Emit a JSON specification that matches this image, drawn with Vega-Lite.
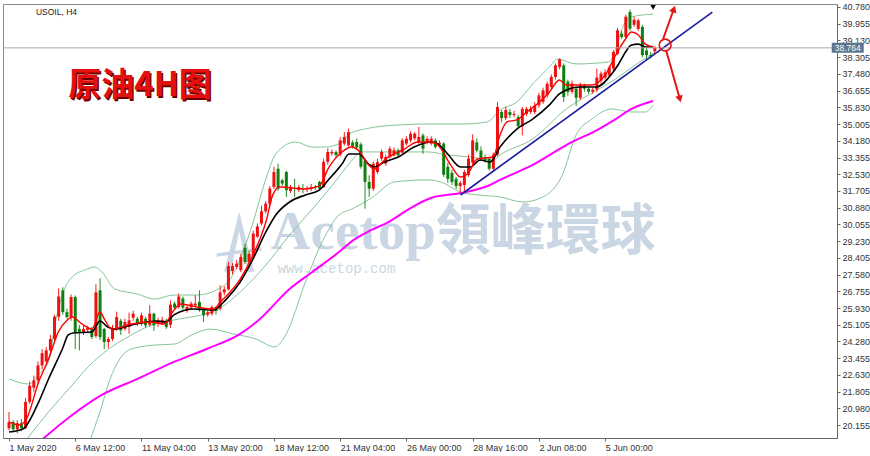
{
"$schema": "https://vega.github.io/schema/vega-lite/v6.json",
"width": 834, "height": 434,
"padding": {"left": 2, "top": 2, "right": 0, "bottom": 0},
"background": "white",
"config": {"view": {"stroke": "#8a8a8a"}, "font": "Liberation Sans"},
"datasets": {
"candles": [
{"i":0,"o":20.0,"h":20.8,"l":19.9,"c":20.3},{"i":1,"o":20.3,"h":20.4,"l":19.8,"c":19.95},{"i":2,"o":19.95,"h":20.4,"l":19.75,"c":20.25},{"i":3,"o":20.25,"h":20.45,"l":19.85,"c":20.0},{"i":4,"o":20.0,"h":21.5,"l":19.95,"c":21.3},{"i":5,"o":21.3,"h":22.3,"l":21.2,"c":22.1},{"i":6,"o":22.0,"h":22.6,"l":21.8,"c":22.36},{"i":7,"o":22.36,"h":23.3,"l":22.2,"c":23.1},{"i":8,"o":23.1,"h":23.9,"l":22.9,"c":23.7},{"i":9,"o":23.3,"h":24.0,"l":23.2,"c":23.84},
{"i":10,"o":23.84,"h":24.6,"l":23.6,"c":24.4},{"i":11,"o":24.4,"h":25.6,"l":24.3,"c":25.5},{"i":12,"o":25.5,"h":26.9,"l":25.3,"c":26.5},{"i":13,"o":26.8,"h":26.95,"l":25.6,"c":25.73},{"i":14,"o":25.73,"h":25.9,"l":25.4,"c":25.48},{"i":15,"o":25.48,"h":26.6,"l":25.3,"c":26.47},{"i":16,"o":26.47,"h":26.55,"l":23.9,"c":24.74},{"i":17,"o":24.9,"h":25.1,"l":23.84,"c":24.7},{"i":18,"o":24.75,"h":25.1,"l":24.6,"c":24.9},{"i":19,"o":24.85,"h":25.05,"l":24.7,"c":24.95},
{"i":20,"o":24.9,"h":25.0,"l":24.4,"c":24.5},{"i":21,"o":24.55,"h":27.1,"l":24.45,"c":26.7},{"i":22,"o":26.8,"h":27.4,"l":24.35,"c":24.5},{"i":23,"o":24.9,"h":24.95,"l":23.9,"c":24.25},{"i":24,"o":24.25,"h":24.5,"l":23.95,"c":24.4},{"i":25,"o":24.4,"h":25.1,"l":24.3,"c":24.95},{"i":26,"o":24.9,"h":25.75,"l":24.8,"c":25.48},{"i":27,"o":25.3,"h":25.4,"l":24.6,"c":24.83},{"i":28,"o":24.9,"h":25.4,"l":24.8,"c":25.24},{"i":29,"o":25.0,"h":25.7,"l":24.66,"c":25.32},
{"i":30,"o":25.45,"h":25.8,"l":25.3,"c":25.65},{"i":31,"o":25.4,"h":25.5,"l":25.05,"c":25.15},{"i":32,"o":25.15,"h":25.7,"l":25.05,"c":25.57},{"i":33,"o":25.4,"h":25.5,"l":24.95,"c":25.07},{"i":34,"o":25.1,"h":26.06,"l":25.0,"c":25.65},{"i":35,"o":25.65,"h":25.7,"l":24.8,"c":25.07},{"i":36,"o":25.15,"h":25.45,"l":25.0,"c":25.32},{"i":37,"o":25.2,"h":25.5,"l":25.1,"c":25.35},{"i":38,"o":25.32,"h":25.4,"l":24.9,"c":24.99},{"i":39,"o":25.1,"h":26.3,"l":24.95,"c":26.1},
{"i":40,"o":26.15,"h":26.25,"l":25.85,"c":25.95},{"i":41,"o":25.98,"h":26.65,"l":25.9,"c":26.5},{"i":42,"o":26.4,"h":26.5,"l":25.85,"c":25.95},{"i":43,"o":25.8,"h":26.05,"l":25.7,"c":25.98},{"i":44,"o":25.95,"h":26.25,"l":25.85,"c":26.15},{"i":45,"o":26.05,"h":26.56,"l":25.95,"c":26.15},{"i":46,"o":26.23,"h":26.8,"l":25.75,"c":25.82},{"i":47,"o":25.82,"h":25.9,"l":25.24,"c":25.57},{"i":48,"o":25.6,"h":25.8,"l":25.5,"c":25.72},{"i":49,"o":25.65,"h":26.05,"l":25.55,"c":25.98},
{"i":50,"o":25.95,"h":26.0,"l":25.6,"c":25.78},{"i":51,"o":25.9,"h":27.05,"l":25.8,"c":26.7},{"i":52,"o":26.7,"h":27.0,"l":26.55,"c":26.85},{"i":53,"o":26.85,"h":28.2,"l":26.8,"c":28.0},{"i":54,"o":27.75,"h":28.15,"l":27.6,"c":28.0},{"i":55,"o":27.95,"h":28.3,"l":27.85,"c":28.12},{"i":56,"o":27.8,"h":28.6,"l":27.7,"c":28.45},{"i":57,"o":28.9,"h":29.1,"l":28.1,"c":28.2},{"i":58,"o":28.2,"h":28.75,"l":28.05,"c":28.6},{"i":59,"o":28.4,"h":29.75,"l":28.35,"c":29.6},
{"i":60,"o":29.45,"h":30.1,"l":29.4,"c":29.95},{"i":61,"o":30.1,"h":30.98,"l":30.0,"c":30.7},{"i":62,"o":30.7,"h":31.2,"l":30.6,"c":31.08},{"i":63,"o":31.08,"h":31.95,"l":30.95,"c":31.82},{"i":64,"o":31.9,"h":32.9,"l":31.8,"c":32.64},{"i":65,"o":32.8,"h":33.05,"l":31.7,"c":31.82},{"i":66,"o":32.23,"h":32.3,"l":31.95,"c":32.07},{"i":67,"o":32.64,"h":32.7,"l":31.41,"c":31.74},{"i":68,"o":31.7,"h":32.0,"l":31.6,"c":31.9},{"i":69,"o":31.85,"h":32.31,"l":31.41,"c":31.8},
{"i":70,"o":31.75,"h":32.0,"l":31.65,"c":31.9},{"i":71,"o":31.82,"h":32.05,"l":31.58,"c":31.78},{"i":72,"o":31.8,"h":31.95,"l":31.65,"c":31.85},{"i":73,"o":31.82,"h":32.05,"l":31.7,"c":31.9},{"i":74,"o":31.92,"h":32.0,"l":31.75,"c":31.88},{"i":75,"o":32.15,"h":32.2,"l":31.75,"c":31.82},{"i":76,"o":31.9,"h":33.3,"l":31.85,"c":33.14},{"i":77,"o":33.14,"h":33.8,"l":33.0,"c":33.63},{"i":78,"o":33.56,"h":33.75,"l":33.45,"c":33.63},{"i":79,"o":33.63,"h":33.7,"l":33.35,"c":33.47},
{"i":80,"o":33.5,"h":34.35,"l":33.4,"c":34.2},{"i":81,"o":34.04,"h":34.61,"l":33.95,"c":34.37},{"i":82,"o":33.96,"h":34.78,"l":33.9,"c":34.61},{"i":83,"o":34.1,"h":34.2,"l":33.8,"c":33.9},{"i":84,"o":34.12,"h":34.3,"l":33.75,"c":33.85},{"i":85,"o":34.0,"h":34.1,"l":32.8,"c":32.9},{"i":86,"o":33.2,"h":33.3,"l":30.83,"c":32.15},{"i":87,"o":32.15,"h":32.48,"l":31.41,"c":31.82},{"i":88,"o":31.82,"h":33.15,"l":31.7,"c":33.05},{"i":89,"o":32.64,"h":33.3,"l":32.55,"c":33.13},
{"i":90,"o":33.3,"h":33.75,"l":33.2,"c":33.63},{"i":91,"o":33.05,"h":33.5,"l":32.95,"c":33.38},{"i":92,"o":33.38,"h":33.9,"l":33.3,"c":33.79},{"i":93,"o":33.46,"h":33.85,"l":33.4,"c":33.71},{"i":94,"o":33.71,"h":33.8,"l":33.35,"c":33.46},{"i":95,"o":33.6,"h":34.3,"l":33.5,"c":34.2},{"i":96,"o":34.04,"h":34.4,"l":33.95,"c":34.28},{"i":97,"o":34.2,"h":34.65,"l":34.1,"c":34.53},{"i":98,"o":34.3,"h":34.61,"l":34.2,"c":34.53},{"i":99,"o":34.12,"h":34.86,"l":34.0,"c":34.37},
{"i":100,"o":34.45,"h":34.55,"l":33.54,"c":33.79},{"i":101,"o":34.12,"h":34.4,"l":34.0,"c":34.28},{"i":102,"o":34.04,"h":34.4,"l":33.95,"c":34.28},{"i":103,"o":34.2,"h":34.3,"l":33.8,"c":33.87},{"i":104,"o":34.0,"h":34.2,"l":33.9,"c":34.08},{"i":105,"o":34.04,"h":34.12,"l":32.4,"c":32.5},{"i":106,"o":32.9,"h":33.1,"l":32.1,"c":32.3},{"i":107,"o":32.6,"h":32.75,"l":32.0,"c":32.15},{"i":108,"o":32.3,"h":32.4,"l":31.8,"c":31.95},{"i":109,"o":31.95,"h":32.2,"l":31.6,"c":32.1},
{"i":110,"o":32.0,"h":32.75,"l":31.65,"c":32.64},{"i":111,"o":32.5,"h":33.5,"l":32.4,"c":33.3},{"i":112,"o":33.1,"h":34.5,"l":33.0,"c":34.2},{"i":113,"o":34.1,"h":34.3,"l":33.6,"c":33.7},{"i":114,"o":33.7,"h":33.9,"l":33.2,"c":33.3},{"i":115,"o":33.35,"h":33.5,"l":33.1,"c":33.25},{"i":116,"o":33.3,"h":33.4,"l":32.7,"c":32.8},{"i":117,"o":32.8,"h":33.6,"l":32.65,"c":33.5},{"i":118,"o":33.5,"h":36.1,"l":33.4,"c":35.85},{"i":119,"o":35.6,"h":35.7,"l":35.1,"c":35.3},
{"i":120,"o":35.3,"h":35.85,"l":35.2,"c":35.7},{"i":121,"o":35.6,"h":35.75,"l":35.3,"c":35.45},{"i":122,"o":35.45,"h":35.65,"l":35.35,"c":35.5},{"i":123,"o":35.35,"h":35.45,"l":34.8,"c":34.9},{"i":124,"o":34.9,"h":35.85,"l":34.45,"c":35.76},{"i":125,"o":35.5,"h":35.85,"l":35.4,"c":35.76},{"i":126,"o":35.6,"h":35.9,"l":35.5,"c":35.76},{"i":127,"o":35.6,"h":36.09,"l":35.5,"c":35.93},{"i":128,"o":35.93,"h":36.55,"l":35.8,"c":36.42},{"i":129,"o":36.1,"h":36.8,"l":36.0,"c":36.67},
{"i":130,"o":36.42,"h":37.1,"l":36.3,"c":36.99},{"i":131,"o":36.83,"h":37.45,"l":36.7,"c":37.33},{"i":132,"o":37.33,"h":38.0,"l":37.2,"c":37.9},{"i":133,"o":37.82,"h":38.25,"l":37.7,"c":38.2},{"i":134,"o":37.9,"h":38.0,"l":36.1,"c":36.34},{"i":135,"o":37.1,"h":37.2,"l":36.4,"c":36.59},{"i":136,"o":36.6,"h":37.15,"l":36.5,"c":37.0},{"i":137,"o":36.75,"h":36.85,"l":35.9,"c":36.3},{"i":138,"o":36.3,"h":37.05,"l":36.2,"c":36.9},{"i":139,"o":36.9,"h":37.0,"l":36.6,"c":36.75},
{"i":140,"o":36.75,"h":36.85,"l":36.5,"c":36.6},{"i":141,"o":36.6,"h":36.8,"l":36.5,"c":36.7},{"i":142,"o":36.7,"h":37.74,"l":36.6,"c":37.3},{"i":143,"o":37.15,"h":37.6,"l":37.0,"c":37.5},{"i":144,"o":37.3,"h":37.7,"l":37.2,"c":37.55},{"i":145,"o":37.4,"h":37.9,"l":37.3,"c":37.8},{"i":146,"o":37.74,"h":38.65,"l":37.6,"c":38.56},{"i":147,"o":38.48,"h":39.75,"l":38.4,"c":39.63},{"i":148,"o":39.46,"h":39.6,"l":39.2,"c":39.3},{"i":149,"o":39.3,"h":40.4,"l":39.2,"c":40.3},
{"i":150,"o":40.53,"h":40.65,"l":39.6,"c":39.71},{"i":151,"o":39.9,"h":40.3,"l":39.8,"c":40.15},{"i":152,"o":39.7,"h":40.2,"l":39.6,"c":40.12},{"i":153,"o":39.8,"h":39.9,"l":38.3,"c":38.4},{"i":154,"o":38.64,"h":38.8,"l":38.15,"c":38.4},{"i":155,"o":38.4,"h":38.55,"l":38.25,"c":38.35},{"i":156,"o":38.6,"h":38.85,"l":38.5,"c":38.76}
],
"maFast": [
{"i":0,"p":20.31},{"i":2.39,"p":20.16},{"i":4.06,"p":20.4},{"i":7.16,"p":22.28},{"i":9.55,"p":23.41},{"i":11.93,"p":24.75},{"i":14.08,"p":25.34},{"i":15.27,"p":25.49},{"i":17.66,"p":25.14},{"i":20.05,"p":24.89},{"i":21.96,"p":25.73},{"i":23.15,"p":25.34},{"i":24.82,"p":24.89},{"i":29.59,"p":25.14},{"i":34.37,"p":25.24},{"i":37.47,"p":25.14},{"i":39.86,"p":25.83},{"i":41.53,"p":26.13},{"i":45.35,"p":25.98},{"i":49.4,"p":25.88},{"i":51.07,"p":26.23},{"i":55.85,"p":27.36},{"i":58.95,"p":28.54},{"i":62.05,"p":30.17},{"i":63.72,"p":31.51},{"i":65.39,"p":31.9},{"i":71.6,"p":31.8},{"i":74.94,"p":31.95},{"i":77.33,"p":32.89},{"i":80.43,"p":33.63},{"i":82.82,"p":33.87},{"i":84.73,"p":33.63},{"i":86.87,"p":32.99},{"i":88.31,"p":32.79},{"i":90.69,"p":33.23},{"i":95.47,"p":33.77},{"i":98.81,"p":34.12},{"i":101.9,"p":34.12},{"i":103.6,"p":33.97},{"i":106.68,"p":32.99},{"i":109.07,"p":32.39},{"i":110.74,"p":32.54},{"i":113.13,"p":33.28},{"i":116.95,"p":33.38},{"i":118.62,"p":34.47},{"i":120.29,"p":35.11},{"i":122.67,"p":35.21},{"i":125.06,"p":35.6},{"i":128.16,"p":36.09},{"i":130.55,"p":36.59},{"i":132.94,"p":37.18},{"i":134.61,"p":36.93},{"i":140.81,"p":36.93},{"i":144.15,"p":37.47},{"i":146.54,"p":38.41},{"i":148.93,"p":39.2},{"i":150.36,"p":39.55},{"i":152.03,"p":39.4},{"i":153.7,"p":38.95},{"i":155.6,"p":38.81}
],
"maSlow": [
{"i":0,"p":19.81},{"i":3.34,"p":19.96},{"i":7.16,"p":21.29},{"i":9.55,"p":22.43},{"i":12.89,"p":23.91},{"i":14.32,"p":24.6},{"i":15.51,"p":24.7},{"i":20.05,"p":24.75},{"i":21.96,"p":25.29},{"i":23.87,"p":24.99},{"i":25.54,"p":24.89},{"i":29.59,"p":25.09},{"i":35.8,"p":25.29},{"i":37.95,"p":25.24},{"i":39.86,"p":25.59},{"i":44.63,"p":25.88},{"i":49.4,"p":25.83},{"i":52.5,"p":26.37},{"i":55.85,"p":27.21},{"i":58.95,"p":28.35},{"i":62.05,"p":29.68},{"i":64.44,"p":30.52},{"i":67.78,"p":31.16},{"i":71.6,"p":31.51},{"i":74.94,"p":31.75},{"i":77.33,"p":32.29},{"i":80.43,"p":33.03},{"i":82.1,"p":33.53},{"i":84.49,"p":33.53},{"i":86.87,"p":33.03},{"i":88.31,"p":32.89},{"i":90.69,"p":33.13},{"i":94.03,"p":33.38},{"i":97.85,"p":33.87},{"i":101.9,"p":34.12},{"i":103.6,"p":34.02},{"i":105.97,"p":33.53},{"i":109.07,"p":32.89},{"i":111.46,"p":32.89},{"i":113.84,"p":33.23},{"i":116.23,"p":33.13},{"i":118.62,"p":33.87},{"i":122.67,"p":34.76},{"i":126.49,"p":35.25},{"i":130.55,"p":35.95},{"i":132.94,"p":36.49},{"i":134.61,"p":36.69},{"i":137.71,"p":36.83},{"i":141.77,"p":36.83},{"i":145.58,"p":37.47},{"i":147.26,"p":37.97},{"i":148.93,"p":38.56},{"i":150.36,"p":38.91},{"i":152.03,"p":38.95},{"i":153.7,"p":38.81},{"i":155.6,"p":38.81}
],
"maLong": [
{"i":7.88,"p":19.42},{"i":15.27,"p":20.65},{"i":22.43,"p":21.64},{"i":31.03,"p":22.43},{"i":39.86,"p":23.27},{"i":47.73,"p":23.91},{"i":55.85,"p":24.65},{"i":60.62,"p":25.39},{"i":67.78,"p":26.87},{"i":73.27,"p":27.71},{"i":79.71,"p":28.69},{"i":83.53,"p":29.33},{"i":87.59,"p":29.78},{"i":91.65,"p":30.17},{"i":96.5,"p":30.8},{"i":101.9,"p":31.36},{"i":109.07,"p":31.6},{"i":116.23,"p":32.0},{"i":118.62,"p":32.25},{"i":126.49,"p":32.99},{"i":134.61,"p":33.97},{"i":142.48,"p":34.76},{"i":146.54,"p":35.25},{"i":150.36,"p":35.75},{"i":155.6,"p":36.14}
],
"bbUp": [
{"i":0,"p":22.43},{"i":4.77,"p":22.18},{"i":7.16,"p":22.67},{"i":9.55,"p":23.27},{"i":11.22,"p":25.24},{"i":13.6,"p":26.97},{"i":15.27,"p":27.46},{"i":18.38,"p":27.81},{"i":20.76,"p":27.95},{"i":22.43,"p":27.71},{"i":25.54,"p":26.87},{"i":31.03,"p":26.62},{"i":35.08,"p":26.37},{"i":39.86,"p":26.57},{"i":45.35,"p":26.57},{"i":50.12,"p":26.82},{"i":53.46,"p":27.36},{"i":58.23,"p":29.68},{"i":62.05,"p":32.29},{"i":64.44,"p":33.53},{"i":69.21,"p":34.12},{"i":73.27,"p":33.87},{"i":76.37,"p":33.87},{"i":80.43,"p":34.12},{"i":82.1,"p":34.51},{"i":85.92,"p":34.76},{"i":94.03,"p":34.96},{"i":101.9,"p":35.01},{"i":109.79,"p":35.01},{"i":115.51,"p":35.11},{"i":118.62,"p":35.7},{"i":122.67,"p":36.09},{"i":126.49,"p":36.98},{"i":130.55,"p":37.82},{"i":132.46,"p":38.21},{"i":136.99,"p":37.97},{"i":144.87,"p":38.07},{"i":148.93,"p":40.04},{"i":150.36,"p":40.29},{"i":155.6,"p":40.43}
],
"bbMid": [
{"i":4.53,"p":19.52},{"i":9.55,"p":20.8},{"i":15.27,"p":22.13},{"i":19.09,"p":23.02},{"i":23.15,"p":23.76},{"i":29.59,"p":24.6},{"i":35.08,"p":25.14},{"i":39.86,"p":25.34},{"i":50.12,"p":25.83},{"i":55.85,"p":26.72},{"i":62.05,"p":28.05},{"i":67.78,"p":29.53},{"i":73.27,"p":30.81},{"i":78.76,"p":32.15},{"i":82.1,"p":33.03},{"i":85.2,"p":33.63},{"i":93.08,"p":33.63},{"i":101.19,"p":33.63},{"i":105.97,"p":33.48},{"i":111.46,"p":33.38},{"i":116.95,"p":33.23},{"i":118.62,"p":33.48},{"i":126.49,"p":34.27},{"i":134.61,"p":35.75},{"i":142.48,"p":36.73},{"i":146.54,"p":37.23},{"i":151.31,"p":37.92},{"i":156.09,"p":38.56}
],
"bbLow": [
{"i":19.57,"p":19.4},{"i":21.96,"p":20.8},{"i":24.34,"p":22.38},{"i":26.73,"p":23.41},{"i":29.59,"p":23.91},{"i":35.08,"p":24.1},{"i":39.86,"p":24.15},{"i":44.63,"p":24.65},{"i":48.69,"p":24.89},{"i":54.18,"p":24.65},{"i":59.67,"p":24.4},{"i":64.2,"p":24.01},{"i":66.83,"p":24.6},{"i":71.6,"p":27.21},{"i":75.66,"p":29.19},{"i":79.71,"p":30.52},{"i":82.82,"p":30.81},{"i":87.59,"p":31.36},{"i":93.08,"p":32.15},{"i":101.19,"p":32.25},{"i":104.3,"p":32.15},{"i":109.07,"p":31.65},{"i":113.13,"p":31.51},{"i":118.62,"p":31.41},{"i":124.11,"p":31.16},{"i":129.83,"p":31.51},{"i":133.65,"p":32.49},{"i":136.99,"p":34.47},{"i":140.81,"p":35.25},{"i":145.58,"p":35.75},{"i":150.36,"p":35.6},{"i":153.7,"p":35.6},{"i":155.6,"p":35.95}
],
"trend": [{"i":109.07,"p":31.505},{"i":169.9,"p":40.53}],
"arrows": [{"i":158.0,"p":39.2,"s":"up"},{"i":160.6,"p":40.68,"s":"up"},{"i":158.7,"p":38.66,"s":"down"},{"i":162.05,"p":36.24,"s":"down"}],
"headUp": [{"i":160.6,"p":40.68}],
"headDown": [{"i":162.05,"p":36.24}],
"circle": [{"i":158.5,"p":38.905}],
"marker": [{"i":155.6,"p":40.76}],
"price": [{"i":202.6,"p":38.764,"t":"38.764"}],
"title": [{"i":14.3,"p":36.88,"t":"原油4H图"}],
"header": [{"i":6.5,"p":40.53,"t":"USOIL, H4"}],
"wmLogo": [{"i":55.6,"p":29.2}],
"wmText": [{"i":63.25,"p":28.84,"t":"Acetop領峰環球"}],
"wmUrl": [{"i":64.9,"p":28.2,"t":"www.acetop.com"}]
},
"encoding": {
"x": {"field": "i", "type": "quantitative", "title": null,
 "scale": {"domain": [-0.24, 198.8], "nice": false, "zero": false},
 "axis": {"values": [0,16,32,48,64,80,96,112,128,144], "labelExpr": "['1 May 2020','6 May 12:00','11 May 04:00','13 May 20:00','18 May 12:00','21 May 04:00','26 May 00:00','28 May 16:00','2 Jun 08:00','5 Jun 00:00'][round(datum.value/16)]", "labelAlign": "left", "labelFontSize": 9, "labelColor": "#333", "tickSize": 3, "tickColor": "#666", "domainColor": "#666", "labelPadding": 2, "grid": false, "labelOverlap": false, "labelFlush": false, "title": null}},
"y": {"field": "p", "type": "quantitative", "title": null,
 "scale": {"domain": [19.517, 40.928], "nice": false, "zero": false},
 "axis": {"orient": "right", "values": [20.155,20.98,21.805,22.63,23.455,24.28,25.105,25.93,26.755,27.58,28.405,29.23,30.055,30.88,31.705,32.53,33.355,34.18,35.005,35.83,36.655,37.48,38.305,39.13,39.955,40.78], "format": ".3f", "labelFontSize": 9, "labelColor": "#333", "tickSize": 3, "tickColor": "#666", "domainColor": "#666", "labelPadding": 2, "grid": false, "labelOverlap": false, "labelFlush": false, "title": null}}
},
"layer": [
{"data": {"name": "wmLogo"}, "mark": {"type": "point", "shape": "M0,-1L0.5,1L0.28,1L0,-0.35L-0.28,1L-0.5,1Z M-0.75,0.38L0.75,0.18L0.75,0.3L-0.75,0.5Z", "size": 3600, "filled": true, "color": "#b4c6d8", "opacity": 0.7, "strokeWidth": 0}},
{"data": {"name": "wmText"}, "mark": {"type": "text", "align": "left", "baseline": "alphabetic", "font": "Liberation Serif, Noto Sans CJK TC", "fontWeight": "bold", "fontSize": 55, "color": "#b4c6d8", "opacity": 0.7}, "encoding": {"text": {"field": "t"}}},
{"data": {"name": "wmUrl"}, "mark": {"type": "text", "align": "left", "baseline": "top", "font": "Liberation Mono", "fontSize": 14, "color": "#b4c6d8", "opacity": 0.7}, "encoding": {"text": {"field": "t"}}},
{"data": {"name": "bbUp"}, "mark": {"type": "line", "color": "#86c59a", "strokeWidth": 1, "interpolate": "monotone", "clip": true}},
{"data": {"name": "bbMid"}, "mark": {"type": "line", "color": "#86c59a", "strokeWidth": 1, "interpolate": "monotone", "clip": true}},
{"data": {"name": "bbLow"}, "mark": {"type": "line", "color": "#86c59a", "strokeWidth": 1, "interpolate": "monotone", "clip": true}},
{"data": {"name": "maLong"}, "mark": {"type": "line", "color": "#ff00ff", "strokeWidth": 2, "interpolate": "monotone", "clip": true}},
{"data": {"name": "candles"}, "mark": {"type": "rule", "strokeWidth": 1},
 "encoding": {"y": {"field": "l", "type": "quantitative", "title": null}, "y2": {"field": "h"},
  "color": {"condition": {"test": "datum.c >= datum.o", "value": "#ff1a1a"}, "value": "#1d8f1d"}}},
{"data": {"name": "candles"}, "mark": {"type": "bar", "width": 3},
 "encoding": {"y": {"field": "o", "type": "quantitative", "title": null}, "y2": {"field": "c"},
  "color": {"condition": {"test": "datum.c >= datum.o", "value": "#f01010"}, "value": "#0f800f"}}},
{"data": {"name": "maSlow"}, "mark": {"type": "line", "color": "#000000", "strokeWidth": 1.6, "interpolate": "monotone", "clip": true}},
{"data": {"name": "maFast"}, "mark": {"type": "line", "color": "#ff0000", "strokeWidth": 1.4, "interpolate": "monotone", "clip": true}},
{"data": {"name": "trend"}, "mark": {"type": "line", "color": "#1a1aa0", "strokeWidth": 1.6, "clip": true}},
{"data": {"name": "price"}, "mark": {"type": "rule", "color": "#a8a8a8", "strokeWidth": 1}, "encoding": {"x": null}},
{"data": {"name": "arrows"}, "mark": {"type": "line", "color": "#e01818", "strokeWidth": 2}, "encoding": {"detail": {"field": "s"}}},
{"data": {"name": "headUp"}, "mark": {"type": "point", "shape": "triangle-up", "angle": 19.5, "size": 60, "filled": true, "color": "#e01818", "opacity": 1}},
{"data": {"name": "headDown"}, "mark": {"type": "point", "shape": "triangle-down", "angle": -15.4, "size": 60, "filled": true, "color": "#e01818", "opacity": 1}},
{"data": {"name": "circle"}, "mark": {"type": "point", "shape": "circle", "size": 140, "filled": false, "color": "#e01818", "strokeWidth": 1.6, "opacity": 1}},
{"data": {"name": "marker"}, "mark": {"type": "point", "shape": "triangle-down", "size": 30, "filled": true, "color": "#000", "opacity": 1}},
{"data": {"name": "price"}, "mark": {"type": "point", "shape": "M-1.6,-0.5L1.6,-0.5L1.6,0.5L-1.6,0.5Z", "size": 400, "filled": true, "color": "#5d7591", "opacity": 1, "strokeWidth": 0}},
{"data": {"name": "price"}, "mark": {"type": "text", "align": "center", "baseline": "middle", "fontSize": 8.5, "color": "#ffffff"}, "encoding": {"text": {"field": "t"}}},
{"data": {"name": "header"}, "mark": {"type": "text", "align": "left", "baseline": "middle", "fontSize": 8.5, "color": "#222"}, "encoding": {"text": {"field": "t"}}},
{"data": {"name": "title"}, "mark": {"type": "text", "align": "left", "baseline": "middle", "font": "Noto Sans CJK SC", "fontWeight": "bold", "fontSize": 33, "color": "#6a0000", "dx": 1.5, "dy": 1.5}, "encoding": {"text": {"field": "t"}}},
{"data": {"name": "title"}, "mark": {"type": "text", "align": "left", "baseline": "middle", "font": "Noto Sans CJK SC", "fontWeight": "bold", "fontSize": 33, "color": "#e41010"}, "encoding": {"text": {"field": "t"}}}
]
}
